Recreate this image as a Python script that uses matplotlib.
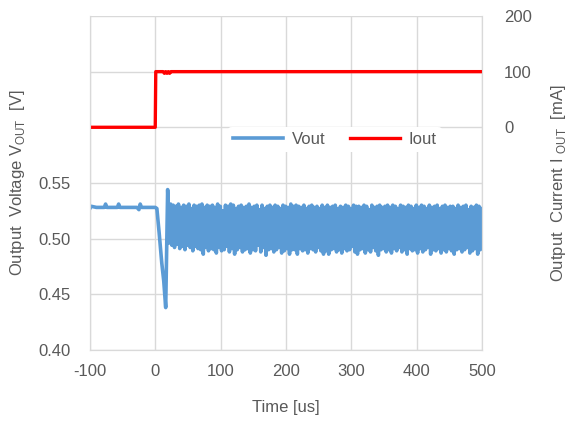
import numpy as np
import matplotlib
matplotlib.use('Agg')
import matplotlib.pyplot as plt
from matplotlib.ticker import FuncFormatter

plt.rcParams['font.family'] = ['Liberation Sans', 'DejaVu Sans']
plt.rcParams['axes.unicode_minus'] = False

# Vout before and during the load step (time in us, voltage in V)
pre_t = [-100, -98, -90, -78, -76, -74, -62, -58, -56, -54, -40, -28, -25, -23, -21, -10, 0]
pre_v = [0.527, 0.529, 0.528, 0.528, 0.531, 0.528, 0.528, 0.528, 0.531, 0.528, 0.528,
         0.528, 0.526, 0.531, 0.528, 0.528, 0.528]
step_t = [2.5, 6, 10, 13, 16, 17.5, 19, 20.5]
step_v = [0.527, 0.505, 0.478, 0.462, 0.438, 0.49, 0.544, 0.520]

# ringing after the step: alternate trough / peak samples
osc_start = 21.5
osc_step = 2.0
troughs = [0.496, 0.494, 0.492, 0.495, 0.491, 0.493, 0.490, 0.494, 0.492, 0.489, 0.493, 0.491,
           0.490, 0.486, 0.492, 0.489, 0.491, 0.490, 0.487, 0.492, 0.489, 0.490, 0.493, 0.488,
           0.491, 0.486, 0.490, 0.492, 0.488, 0.490, 0.491, 0.487, 0.490, 0.489, 0.494, 0.488,
           0.492, 0.485, 0.490, 0.491, 0.488, 0.490, 0.492, 0.487, 0.489, 0.491, 0.486, 0.490,
           0.490, 0.486, 0.491, 0.489, 0.490, 0.487, 0.491, 0.490, 0.488, 0.492, 0.489, 0.486,
           0.489, 0.486, 0.490, 0.491, 0.488, 0.490, 0.487, 0.491, 0.489, 0.490, 0.493, 0.488,
           0.486, 0.490, 0.491, 0.487, 0.490, 0.488, 0.492, 0.489, 0.485, 0.490, 0.491, 0.488,
           0.490, 0.487, 0.491, 0.489, 0.492, 0.488, 0.490, 0.486, 0.491, 0.489, 0.490, 0.487,
           0.491, 0.488, 0.490, 0.492, 0.486, 0.490, 0.489, 0.491, 0.487, 0.490, 0.488, 0.491,
           0.489, 0.486, 0.490, 0.491, 0.488, 0.490, 0.492, 0.487, 0.489, 0.491, 0.486, 0.490]
peaks = [0.531, 0.530, 0.529, 0.531, 0.528, 0.530, 0.529, 0.531, 0.527, 0.530, 0.529, 0.530,
         0.531, 0.528, 0.530, 0.529, 0.530, 0.528, 0.531, 0.529, 0.525, 0.530, 0.529, 0.531,
         0.530, 0.527, 0.529, 0.530, 0.528, 0.529, 0.531, 0.528, 0.529, 0.530, 0.526, 0.530,
         0.527, 0.529, 0.530, 0.528, 0.530, 0.529, 0.527, 0.530, 0.529, 0.528, 0.531, 0.529,
         0.530, 0.529, 0.528, 0.530, 0.527, 0.529, 0.530, 0.528, 0.529, 0.527, 0.530, 0.528,
         0.530, 0.528, 0.529, 0.530, 0.527, 0.529, 0.528, 0.530, 0.529, 0.527, 0.530, 0.529,
         0.529, 0.528, 0.530, 0.529, 0.526, 0.530, 0.528, 0.529, 0.530, 0.528, 0.529, 0.530,
         0.528, 0.530, 0.529, 0.527, 0.530, 0.529, 0.528, 0.530, 0.529, 0.527, 0.530, 0.528,
         0.530, 0.529, 0.527, 0.530, 0.528, 0.529, 0.530, 0.527, 0.529, 0.530, 0.528, 0.529,
         0.529, 0.527, 0.530, 0.528, 0.529, 0.530, 0.526, 0.529, 0.528, 0.530, 0.529, 0.527]

# Iout (mA)
iout_t = [-100, 0, 0.8, 12, 14, 16, 18, 20, 22, 24, 26, 500]
iout_i = [0, 0, 100, 100, 97, 100, 97, 100, 97, 100, 100, 100]

blue = '#5B9BD5'
red = '#FF0000'
gray_txt = '#595959'
grid_col = '#D9D9D9'

osc_v = np.column_stack([troughs, peaks]).ravel()
osc_t = osc_start + osc_step * np.arange(len(osc_v))
vout_t = np.concatenate([pre_t, step_t, osc_t])
vout_v = np.concatenate([pre_v, step_v, osc_v])

fig = plt.figure(figsize=(5.69, 4.21), dpi=100)
ax = fig.add_axes([0.158, 0.169, 0.689, 0.793])
ax2 = ax.twinx()

ax.plot(vout_t, vout_v, color=blue, lw=2.6, label='Vout')
ax2.plot(iout_t, iout_i, color=red, lw=2.4, label='Iout')

ax.set_xlim(-100, 500)
ax.set_ylim(0.40, 0.70)
ax2.set_ylim(-400, 200)
ax.set_xticks(np.arange(-100, 501, 100))
ax.set_yticks(np.arange(0.40, 0.701, 0.05))
ax2.set_yticks([0, 100, 200])
ax.yaxis.set_major_formatter(FuncFormatter(lambda v, p: f'{v:.2f}' if v < 0.575 else ''))

ax.grid(True, color=grid_col, lw=1)
ax.set_axisbelow(True)
for a in (ax, ax2):
    for s in a.spines.values():
        s.set_color(grid_col)
    a.spines['top'].set_visible(False)
    a.tick_params(length=0, labelsize=12, labelcolor=gray_txt)
ax.tick_params(axis='y', pad=14)
ax.tick_params(axis='x', pad=10)
ax2.tick_params(axis='y', pad=16)

ax.set_xlabel('Time [us]', fontsize=12, color=gray_txt, labelpad=15)
ax.set_ylabel(r'Output  Voltage V$_{\mathregular{OUT}}$  [V]', fontsize=12, color=gray_txt, labelpad=8)
ax2.set_ylabel(r'Output  Current I $_{\mathregular{OUT}}$  [mA]', fontsize=12, color=gray_txt, labelpad=12)

h1, l1 = ax.get_legend_handles_labels()
h2, l2 = ax2.get_legend_handles_labels()
leg = ax2.legend(h1 + h2, l1 + l2, loc='center', bbox_to_anchor=(0.625, 0.63), ncol=2,
                 frameon=True, facecolor='white', edgecolor='none', framealpha=1,
                 fontsize=12, handlelength=3, handletextpad=0.5, columnspacing=1.5,
                 borderpad=0.3)
for t in leg.get_texts():
    t.set_color(gray_txt)

fig.savefig('out.png', dpi=100)
